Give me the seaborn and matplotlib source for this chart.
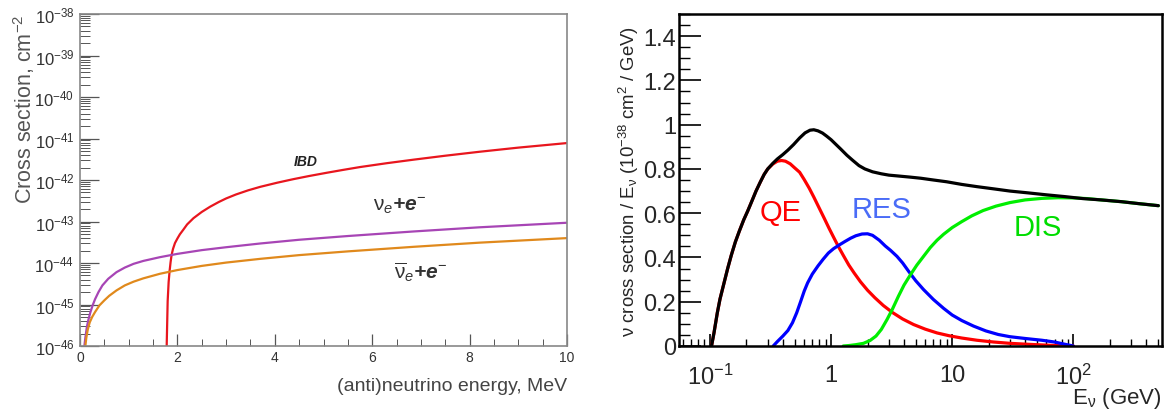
import numpy as np
import pandas as pd
import matplotlib
matplotlib.use("Agg")
import matplotlib.pyplot as plt
import matplotlib.ticker as mticker
import seaborn as sns

# ---- left panel: low energy cross sections (MeV, log10 of cm^2)
ibd_energy = [1.78, 1.80, 1.82, 1.84, 1.86, 1.88, 1.91, 1.95, 2.0, 2.05, 2.12, 2.2, 2.33, 2.5,
              2.67, 2.85, 3.0, 3.2, 3.45, 3.7, 4.05, 4.38, 4.7, 5.07, 5.4, 5.75, 6.3, 6.85, 7.5,
              8.2, 9.0, 10.0]
ibd_log10 = [-46.0, -44.92, -44.46, -44.19, -43.98, -43.81, -43.66, -43.52, -43.41, -43.31,
             -43.20, -43.07, -42.92, -42.77, -42.645, -42.53, -42.445, -42.35, -42.25, -42.165,
             -42.065, -41.98, -41.905, -41.825, -41.757, -41.688, -41.595, -41.51, -41.415,
             -41.32, -41.22, -41.11]

nue_energy = [0.09, 0.11, 0.14, 0.17, 0.21, 0.26, 0.31, 0.38, 0.46, 0.58, 0.75, 0.92, 1.1, 1.3,
              1.64, 2.0, 2.5, 3.0, 3.7, 4.5, 5.5, 6.85, 8.2, 10.0]
nue_log10 = [-46.0, -45.8, -45.55, -45.38, -45.2, -45.02, -44.87, -44.7, -44.54, -44.38, -44.22,
             -44.11, -44.02, -43.95, -43.86, -43.78, -43.69, -43.62, -43.53, -43.44, -43.35,
             -43.24, -43.14, -43.03]

anue_energy = [0.11, 0.13, 0.16, 0.2, 0.25, 0.31, 0.4, 0.5, 0.6, 0.75, 0.92, 1.1, 1.3, 1.64, 2.0,
               2.5, 3.0, 3.7, 4.5, 5.5, 6.85, 8.2, 10.0]
anue_log10 = [-46.0, -45.8, -45.6, -45.43, -45.3, -45.18, -45.02, -44.9, -44.79, -44.66, -44.54,
              -44.45, -44.37, -44.26, -44.17, -44.07, -43.99, -43.9, -43.81, -43.72, -43.61,
              -43.51, -43.40]

left_yticks = [1e-46, 1e-45, 1e-44, 1e-43, 1e-42, 1e-41, 1e-40, 1e-39, 1e-38]

# ---- right panel: GeV-scale cross section / E (1e-38 cm^2/GeV)
tot_energy = [0.103, 0.108, 0.115, 0.121, 0.13, 0.14, 0.15, 0.162, 0.175, 0.19, 0.205, 0.22,
              0.24, 0.26, 0.28, 0.30, 0.33, 0.36, 0.40, 0.44, 0.49, 0.55, 0.61, 0.67, 0.72, 0.78,
              0.85, 0.92, 1.0, 1.1, 1.2, 1.35, 1.5, 1.7, 1.9, 2.2, 2.6, 3.0, 3.6, 4.5, 5.5, 7.0,
              9.0, 12.0, 16.0, 22.0, 30.0, 42.0, 60.0, 85.0, 120.0, 170.0, 250.0, 350.0, 504.0]
tot_xsec = [0.0, 0.06, 0.15, 0.212, 0.28, 0.35, 0.41, 0.47, 0.52, 0.57, 0.61, 0.65, 0.70, 0.74,
            0.775, 0.80, 0.825, 0.845, 0.865, 0.885, 0.91, 0.94, 0.963, 0.975, 0.977, 0.972,
            0.962, 0.948, 0.932, 0.91, 0.89, 0.862, 0.84, 0.815, 0.80, 0.787, 0.778, 0.772,
            0.768, 0.763, 0.758, 0.75, 0.742, 0.73, 0.72, 0.71, 0.70, 0.692, 0.683, 0.675,
            0.666, 0.66, 0.652, 0.643, 0.634]

qe_energy = [0.103, 0.108, 0.115, 0.121, 0.13, 0.14, 0.15, 0.162, 0.175, 0.19, 0.205, 0.22, 0.24,
             0.26, 0.28, 0.30, 0.33, 0.36, 0.39, 0.42, 0.46, 0.50, 0.55, 0.60, 0.66, 0.72, 0.80,
             0.88, 0.96, 1.05, 1.15, 1.26, 1.4, 1.55, 1.75, 2.0, 2.3, 2.7, 3.2, 3.9, 4.8, 6.0,
             7.5, 9.5, 12.0, 16.0, 22.0, 30.0, 45.0, 65.0, 100.0]
qe_xsec = [0.0, 0.06, 0.15, 0.212, 0.28, 0.35, 0.41, 0.47, 0.52, 0.57, 0.61, 0.65, 0.70, 0.74,
           0.775, 0.80, 0.822, 0.835, 0.838, 0.835, 0.823, 0.805, 0.785, 0.752, 0.713, 0.673,
           0.622, 0.576, 0.533, 0.491, 0.449, 0.41, 0.366, 0.33, 0.29, 0.252, 0.218, 0.183,
           0.152, 0.122, 0.097, 0.076, 0.059, 0.046, 0.036, 0.026, 0.018, 0.012, 0.007, 0.003,
           0.0]

res_energy = [0.333, 0.36, 0.40, 0.44, 0.48, 0.52, 0.56, 0.60, 0.64, 0.70, 0.78, 0.86, 0.95, 1.05,
              1.18, 1.3, 1.45, 1.6, 1.8, 2.0, 2.2, 2.5, 2.8, 3.1, 3.5, 3.9, 4.4, 5.0, 5.8, 7.0,
              8.5, 10.0, 12.0, 15.0, 19.0, 24.0, 30.0, 40.0, 55.0, 70.0, 85.0, 100.0]
res_xsec = [0.0, 0.02, 0.045, 0.07, 0.105, 0.15, 0.20, 0.248, 0.285, 0.325, 0.362, 0.392, 0.42,
            0.44, 0.458, 0.472, 0.487, 0.498, 0.506, 0.507, 0.50, 0.478, 0.452, 0.432, 0.405,
            0.375, 0.335, 0.295, 0.255, 0.21, 0.17, 0.14, 0.115, 0.09, 0.068, 0.052, 0.042,
            0.034, 0.026, 0.018, 0.008, 0.0]

dis_energy = [1.26, 1.4, 1.6, 1.85, 2.1, 2.35, 2.6, 2.9, 3.2, 3.6, 4.0, 4.5, 5.1, 5.8, 6.6, 7.5,
              8.5, 10.0, 12.0, 14.5, 18.0, 23.0, 30.0, 40.0, 55.0, 75.0, 100.0, 130.0, 170.0,
              250.0, 350.0, 504.0]
dis_xsec = [0.0, 0.002, 0.006, 0.012, 0.025, 0.045, 0.075, 0.12, 0.165, 0.225, 0.275, 0.32,
            0.365, 0.405, 0.445, 0.478, 0.505, 0.535, 0.562, 0.588, 0.612, 0.632, 0.648, 0.66,
            0.667, 0.67, 0.669, 0.666, 0.66, 0.652, 0.643, 0.634]

right_xticks = [0.1, 1, 10, 100]
right_xticklabels = ["10$^{-1}$", "1", "10", "10$^{2}$"]

sns.set_style("ticks")
plt.rcParams["font.family"] = ["Liberation Sans", "DejaVu Sans"]
plt.rcParams["mathtext.fontset"] = "custom"
plt.rcParams["mathtext.rm"] = "Liberation Sans"
plt.rcParams["mathtext.it"] = "Liberation Sans:italic"
plt.rcParams["mathtext.bf"] = "Liberation Sans:bold"

fig = plt.figure(figsize=(11.68, 4.14), dpi=100)
ax1 = fig.add_axes([80 / 1168, 1 - 347 / 414, 487 / 1168, 332 / 414])
ax2 = fig.add_axes([679 / 1168, 1 - 347 / 414, 483 / 1168, 332 / 414])

# ---------------- left panel
left_curves = [
    (ibd_energy, ibd_log10, "#e8161e"),
    (nue_energy, nue_log10, "#a745b5"),
    (anue_energy, anue_log10, "#e0891c"),
]
for e, lg, c in left_curves:
    d = pd.DataFrame({"E": e, "xs": [10.0 ** v for v in lg]})
    sns.lineplot(data=d, x="E", y="xs", color=c, lw=1.6, ax=ax1, sort=False)

ax1.set_yscale("log")
ax1.set_xlim(0, 10)
ax1.set_ylim(1e-46, 1e-38)
ax1.set_yticks(left_yticks)
ax1.yaxis.set_major_formatter(mticker.LogFormatterMathtext())
ax1.yaxis.set_minor_locator(mticker.LogLocator(base=10, subs=np.arange(2, 10)))
ax1.yaxis.set_minor_formatter(mticker.NullFormatter())
ax1.xaxis.set_major_locator(mticker.MultipleLocator(2))
ax1.xaxis.set_minor_locator(mticker.MultipleLocator(0.5))
ax1.tick_params(axis="y", which="major", direction="in", length=14, width=0.9, color="#555555",
                labelsize=12, labelcolor="#333333", pad=4)
ax1.tick_params(axis="y", which="minor", direction="in", length=7, width=0.7, color="#555555")
ax1.tick_params(axis="x", which="major", direction="in", length=9, width=0.9, color="#555555",
                labelsize=10, labelcolor="#333333", pad=3)
ax1.tick_params(axis="x", which="minor", direction="in", length=5, width=0.7, color="#555555")
for sp in ax1.spines.values():
    sp.set_visible(True)
    sp.set_color("#888888")
    sp.set_linewidth(1.2)
ax1.set_xlabel("(anti)neutrino energy, MeV", fontsize=14, color="#444444", loc="right", labelpad=9)
ax1.set_ylabel("Cross section, cm$^{-2}$", fontsize=15.5, color="#555555", loc="top", labelpad=-2)

ax1.text(4.64, 2.8e-42, "IBD", fontsize=10, fontweight="bold", fontstyle="italic",
         ha="center", va="center", color="#222222")
ax1.text(6.57, 2.5e-43, r"$\mathrm{\nu}_{e}$+e$^{-}$", fontsize=15, fontweight="bold",
         fontstyle="italic", ha="center", va="center", color="#333333")
ax1.text(7.0, 6.3e-45, r"$\overline{\mathrm{\nu}}_{e}$+e$^{-}$", fontsize=15, fontweight="bold",
         fontstyle="italic", ha="center", va="center", color="#333333")

# ---------------- right panel
right_curves = [
    (qe_energy, qe_xsec, "#ff0000"),
    (res_energy, res_xsec, "#0000ff"),
    (dis_energy, dis_xsec, "#00ee00"),
    (tot_energy, tot_xsec, "#000000"),
]
for e, s, c in right_curves:
    d = pd.DataFrame({"E": e, "xs": s})
    sns.lineplot(data=d, x="E", y="xs", color=c, lw=2.3, ax=ax2, sort=False)

ax2.set_xscale("log")
ax2.set_xlim(0.0555, 540)
ax2.set_ylim(0, 1.5)
ax2.set_xticks(right_xticks)
ax2.set_xticklabels(right_xticklabels)
ax2.xaxis.set_minor_locator(mticker.LogLocator(base=10, subs=np.arange(2, 10)))
ax2.xaxis.set_minor_formatter(mticker.NullFormatter())
ax2.yaxis.set_major_locator(mticker.FixedLocator([0, 0.2, 0.4, 0.6, 0.8, 1.0, 1.2, 1.4]))
ax2.yaxis.set_major_formatter(mticker.FuncFormatter(lambda v, p: "%g" % round(v, 1)))
ax2.yaxis.set_minor_locator(mticker.MultipleLocator(0.05))
ax2.tick_params(axis="y", which="major", direction="in", length=16, width=1.2, color="black",
                labelsize=17, pad=2)
ax2.tick_params(axis="y", which="minor", direction="in", length=8, width=1.0, color="black")
ax2.tick_params(axis="x", which="major", direction="in", length=9, width=1.2, color="black",
                labelsize=17, pad=13)
ax2.tick_params(axis="x", which="minor", direction="in", length=5, width=1.0, color="black")
for sp in ax2.spines.values():
    sp.set_visible(True)
    sp.set_color("black")
    sp.set_linewidth(1.8)
ax2.set_xlabel(r"E$_{\mathrm{\nu}}$ (GeV)", fontsize=16, loc="right", labelpad=-3)
ax2.set_ylabel(r"$\mathrm{\nu}$ cross section / E$_{\mathrm{\nu}}$ (10$^{-38}$ cm$^{2}$ / GeV)",
               fontsize=13.4, labelpad=2)

ax2.text(0.386, 0.605, "QE", fontsize=21, color="#ff0000", ha="center", va="center")
ax2.text(2.63, 0.62, "RES", fontsize=21, color="#4a6cf7", ha="center", va="center")
ax2.text(51, 0.538, "DIS", fontsize=21, color="#00dd00", ha="center", va="center")

fig.savefig("out.png", dpi=100)
